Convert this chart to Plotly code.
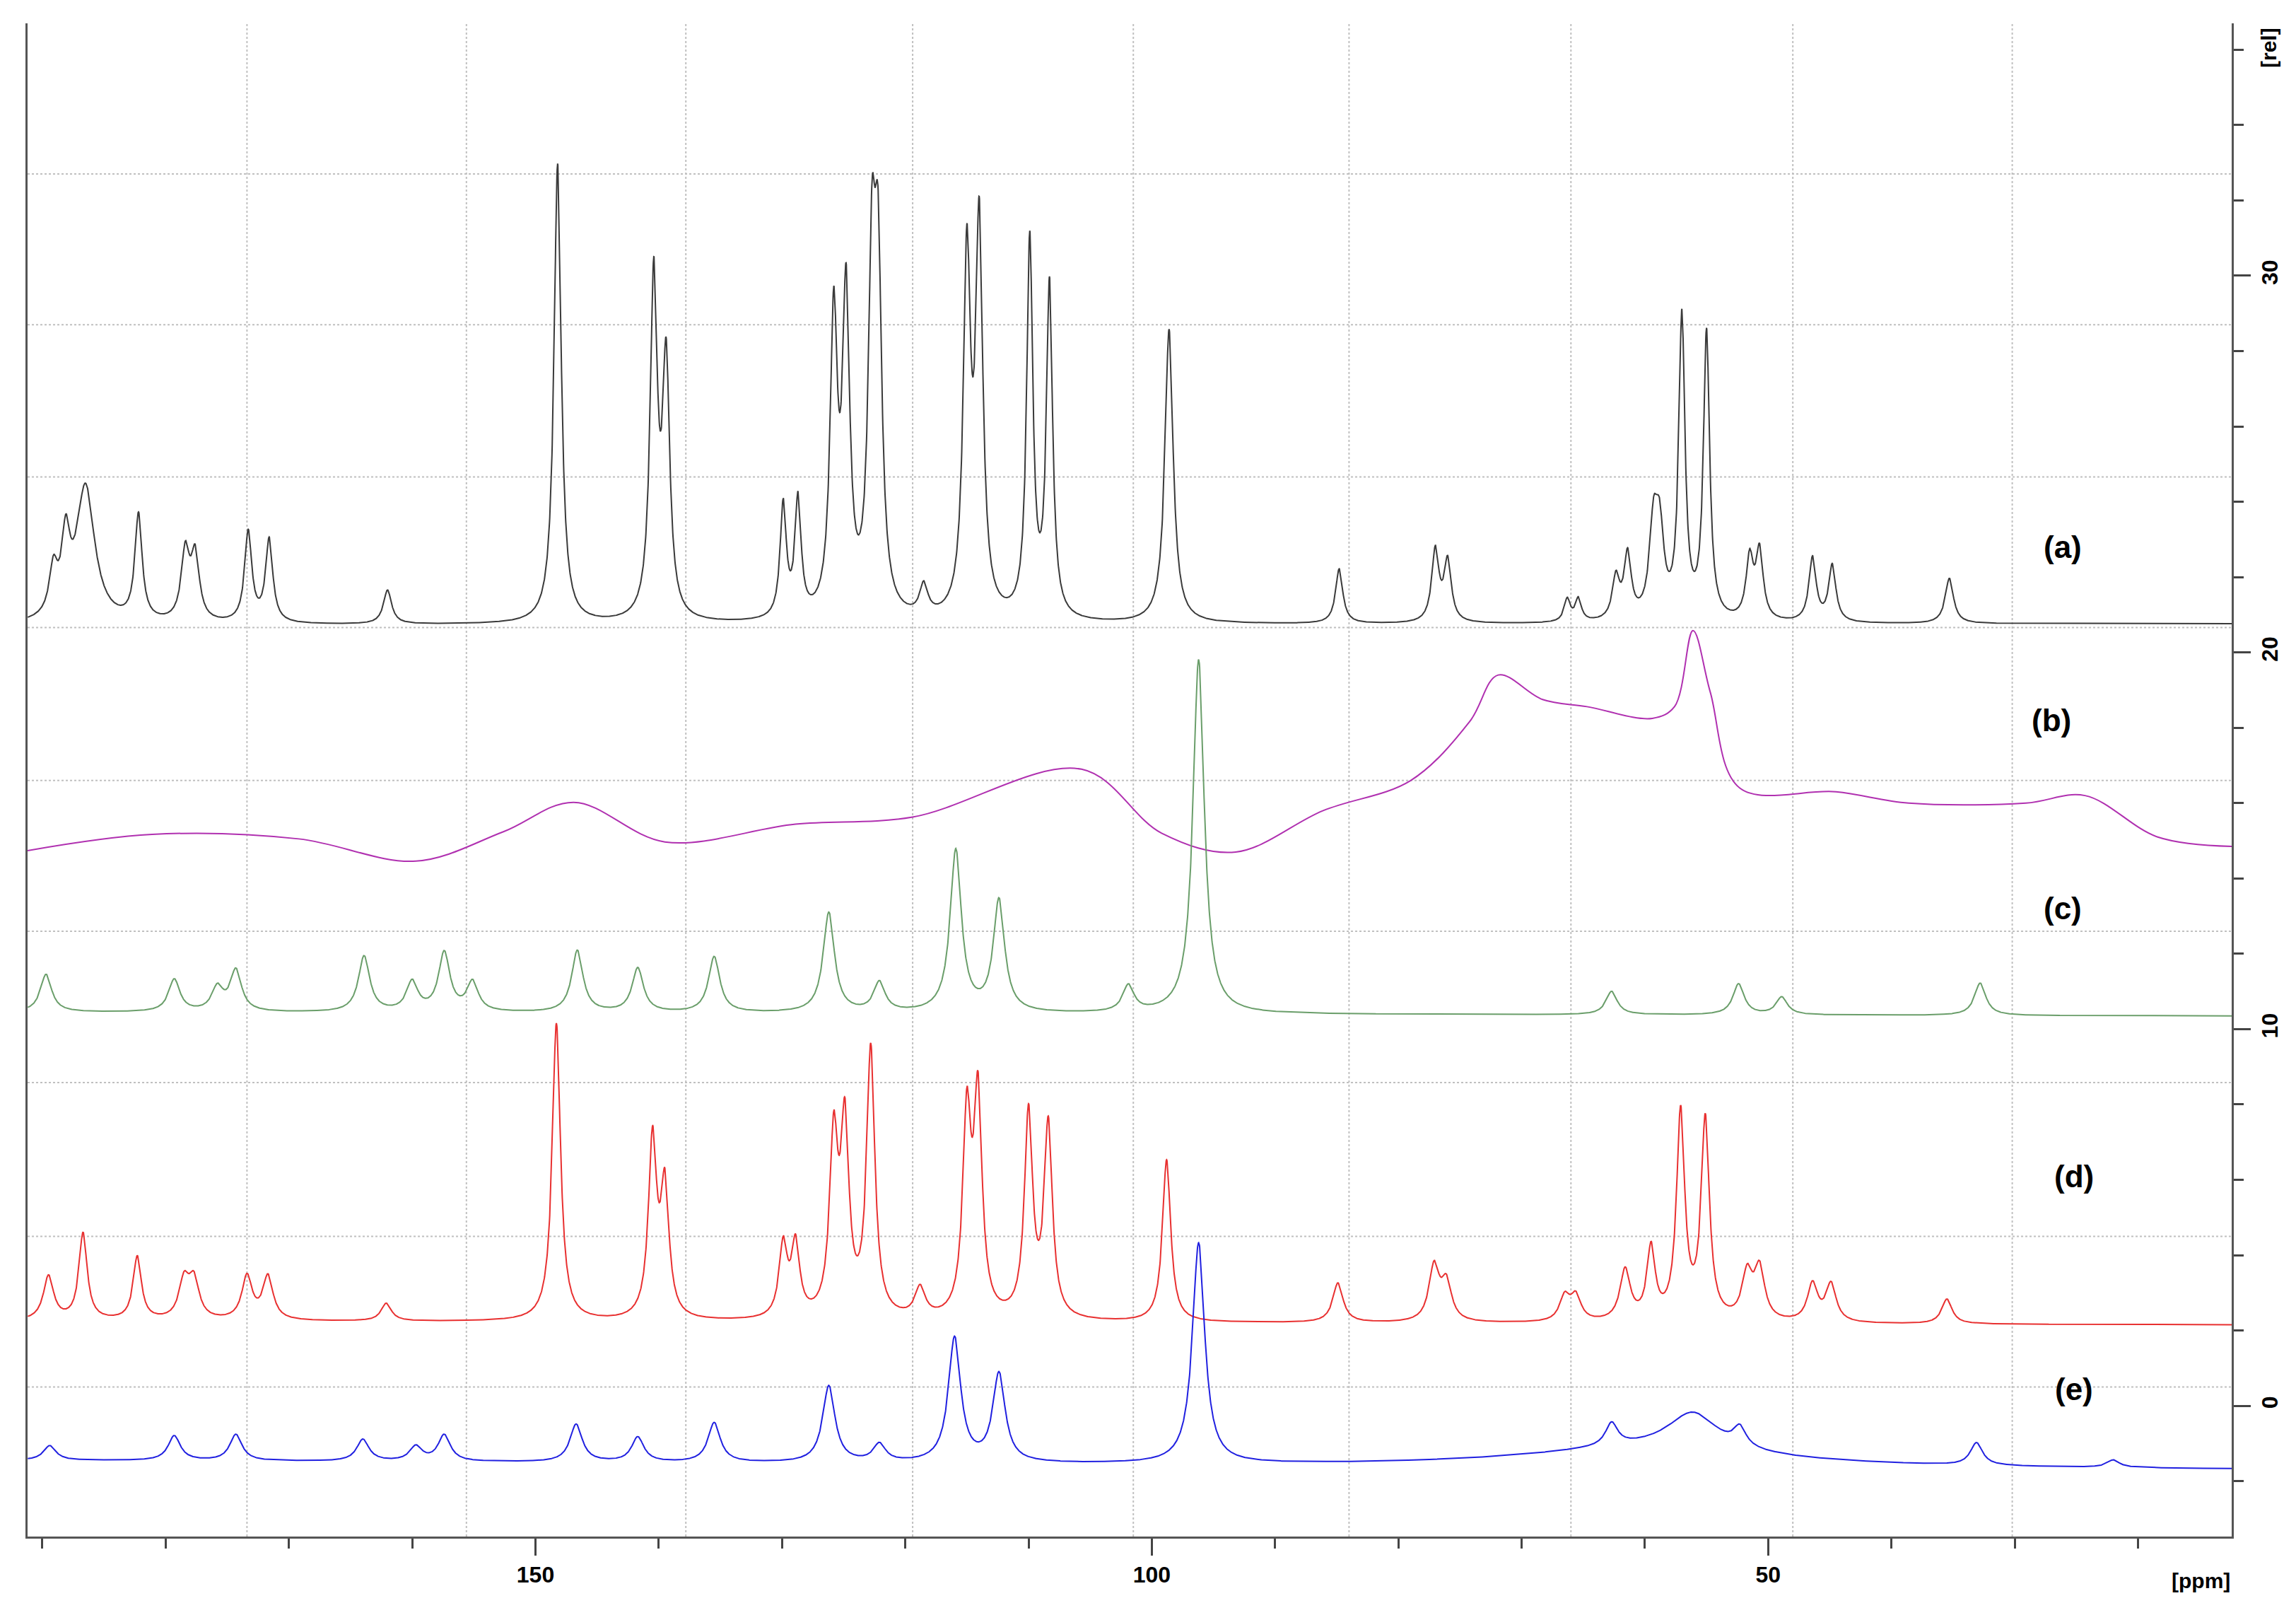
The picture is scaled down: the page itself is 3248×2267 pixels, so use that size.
import numpy as np
import plotly.graph_objects as go

# ---- data (ppm, peak height above baseline) ----
a_ppm = [189.1,188.1,186.5,182.2,178.4,177.6,173.3,171.6,162.0,148.2,140.4,139.4,129.9,128.7,125.8,124.8,122.7,122.2,118.5,115.0,114.0,109.9,108.3,98.6,84.8,77.0,76.0,66.3,65.4,62.35,61.4,59.3,58.8,57.0,55.0,51.5,50.7,46.4,44.8,35.3]
a_h   = [1.2,1.9,3.6,2.8,1.8,1.7,2.4,2.2,0.9,12.2,9.0,6.6,3.0,3.1,7.8,8.3,8.6,8.4,0.8,9.4,10.2,10.0,8.8,7.8,1.45,1.9,1.6,0.6,0.6,1.1,1.7,2.3,2.1,8.0,7.6,1.6,1.8,1.7,1.5,1.2]
a_w   = [0.4,0.4,0.9,0.35,0.4,0.4,0.35,0.35,0.4,0.35,0.35,0.35,0.3,0.3,0.35,0.35,0.35,0.35,0.4,0.35,0.35,0.3,0.3,0.4,0.35,0.35,0.35,0.3,0.3,0.35,0.35,0.4,0.4,0.3,0.3,0.35,0.35,0.35,0.35,0.4]
a_base = [20.72, 20.76]

b_ppm = [191.2,181.1,169.2,159.7,152.6,146.9,139.5,128.9,119.4,105.7,99.2,93.2,86.1,79.0,74.2,71.9,68.3,64.7,59.4,57.6,56.1,54.7,52.3,44.5,38.6,29.1,24.3,18.4,12.4]
b_val = [14.74,15.17,15.05,14.46,15.24,16.02,14.97,15.44,15.63,16.9,15.2,14.7,15.8,16.6,18.17,19.4,18.75,18.56,18.25,18.56,20.58,18.95,16.4,16.3,16.0,16.0,16.2,15.1,14.85]

c_ppm = [189.7,179.3,175.8,174.3,163.9,160.0,157.4,155.1,146.6,141.7,135.5,126.2,122.1,115.9,112.4,101.9,96.2,62.7,52.4,48.9,32.8]
c_h   = [1.0,0.86,0.62,1.09,1.48,0.78,1.56,0.78,1.64,1.17,1.48,2.65,0.78,4.29,2.96,0.7,9.4,0.62,0.82,0.47,0.86]
c_base = [10.45, 10.35]

d_ppm = [189.5,186.7,182.3,178.5,177.7,173.4,171.7,162.1,148.3,140.5,139.5,129.9,128.9,125.8,124.9,122.8,118.8,115.0,114.1,110.0,108.4,98.8,84.9,77.1,76.1,66.5,65.6,61.6,59.5,57.1,55.1,51.7,50.7,46.4,44.9,35.5]
d_h   = [1.17,2.3,1.68,1.0,1.0,1.15,1.15,0.47,7.9,4.7,3.4,1.9,1.9,4.6,4.9,7.1,0.78,5.2,5.7,5.4,5.1,4.3,1.05,1.45,1.0,0.65,0.65,1.35,1.9,5.5,5.3,1.2,1.35,1.0,1.0,0.66]
d_base = [2.25, 2.15]

e_ppm = [189.4,179.3,174.3,164.0,159.7,157.4,146.7,141.7,135.5,126.2,122.1,116.0,112.4,96.2,62.7,56.1,52.3,33.1,22.0]
e_h   = [0.39,0.66,0.7,0.58,0.39,0.7,1.0,0.66,1.05,2.03,0.47,3.3,2.34,5.85,0.6,1.0,0.5,0.6,0.2]
e_base = [-1.45, -1.7]

labels = ["(a)", "(b)", "(c)", "(d)", "(e)"]
label_ppm = [26.1, 27.0, 26.1, 25.2, 25.2]
label_rel = [22.8, 18.2, 13.2, 6.1, 0.45]

x = np.arange(12.4, 191.2, 0.02)

def spectrum(pos, h, w, base):
    y = np.interp(x, [x[0], x[-1]], [base[1], base[0]])
    for p, hh, ww in zip(pos, h, w):
        y = y + hh * ww**2 / ((x - p)**2 + ww**2)
    return y

ya = spectrum(a_ppm, a_h, a_w, a_base)
yc = spectrum(c_ppm, c_h, [0.55]*len(c_ppm), c_base)
yd = spectrum(d_ppm, d_h, [0.4 if h > 1.5 else 0.5 for h in d_h], d_base)
ew = [0.6]*len(e_ppm); ew[15] = 2.5
ye = spectrum(e_ppm, e_h, ew, e_base) + spectrum([60.0], [0.5], [12.0], [0, 0])

fig = go.Figure()
fig.add_trace(go.Scatter(x=x, y=ya, mode="lines", line=dict(color="#3a3a3a", width=2)))
fig.add_trace(go.Scatter(x=b_ppm, y=b_val, mode="lines", line=dict(color="#b030b0", width=2, shape="spline")))
fig.add_trace(go.Scatter(x=x, y=yc, mode="lines", line=dict(color="#6a9e6a", width=2)))
fig.add_trace(go.Scatter(x=x, y=yd, mode="lines", line=dict(color="#e83030", width=2)))
fig.add_trace(go.Scatter(x=x, y=ye, mode="lines", line=dict(color="#2020e0", width=2)))

for t, px, py in zip(labels, label_ppm, label_rel):
    fig.add_annotation(x=px, y=py, text="<b>" + t + "</b>", showarrow=False,
                       font=dict(size=44, color="black", family="Liberation Sans"))

# dotted grid
for gx in [173.4, 155.6, 137.8, 119.4, 101.5, 84.0, 66.0, 48.0, 30.2]:
    fig.add_shape(type="line", xref="x", yref="paper", x0=gx, x1=gx, y0=0, y1=1,
                  line=dict(color="#c0c0c0", width=2, dash="dot"), layer="below")
for gy in [32.7, 28.7, 24.66, 20.66, 16.6, 12.6, 8.58, 4.5, 0.5]:
    fig.add_shape(type="line", xref="paper", yref="y", x0=0, x1=1, y0=gy, y1=gy,
                  line=dict(color="#c0c0c0", width=2, dash="dot"), layer="below")

fig.add_annotation(xref="paper", yref="paper", x=1, y=0, yshift=-62, xanchor="right", yanchor="middle",
                   text="<b>[ppm]</b>", showarrow=False, font=dict(size=30, family="Liberation Sans"))
fig.add_annotation(xref="paper", yref="paper", x=1, y=1, xshift=52, yshift=-35, xanchor="center", yanchor="middle",
                   text="<b>[rel]</b>", textangle=-90, showarrow=False, font=dict(size=30, family="Liberation Sans"))

fig.update_layout(
    width=3248, height=2267, showlegend=False,
    paper_bgcolor="white", plot_bgcolor="white",
    margin=dict(l=31, r=99, t=25, b=102),
    font=dict(family="Liberation Sans", size=32, color="black"),
    xaxis=dict(range=[191.2, 12.4], showgrid=False, zeroline=False, showline=True,
               linecolor="#555", linewidth=3, ticks="outside", ticklen=24, tickwidth=3,
               tickvals=[150, 100, 50], ticktext=["<b>150</b>", "<b>100</b>", "<b>50</b>"],
               minor=dict(dtick=10, ticks="outside", ticklen=14, tickwidth=3, tick0=0),
               tickfont=dict(size=32)),
    yaxis=dict(range=[-3.47, 36.7], side="right", showgrid=False, zeroline=False,
               showline=True, mirror=True, linecolor="#555", linewidth=3,
               ticks="outside", ticklen=24, tickwidth=3, tickangle=-90,
               tickvals=[0, 10, 20, 30], ticktext=["<b>0</b>", "<b>10</b>", "<b>20</b>", "<b>30</b>"],
               minor=dict(dtick=2, ticks="outside", ticklen=14, tickwidth=3),
               tickfont=dict(size=32)),
)

fig.write_html("out.html")
